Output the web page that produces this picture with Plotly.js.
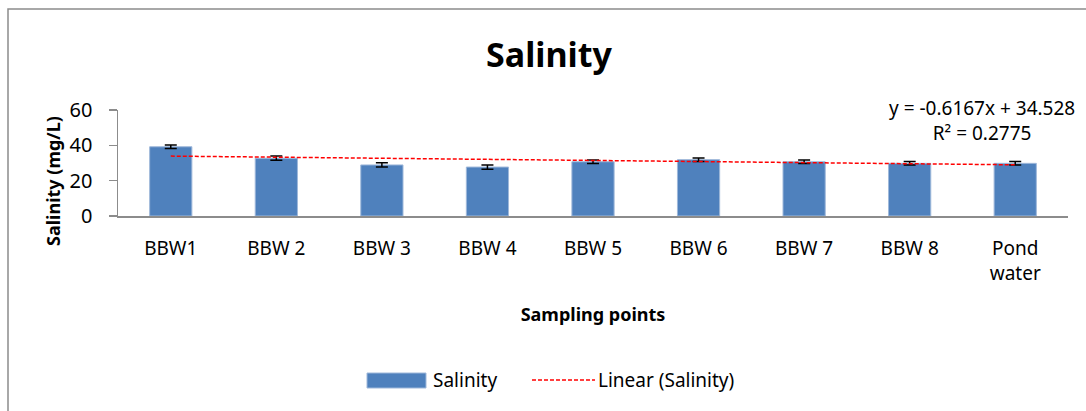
<!DOCTYPE html>
<html>
<head>
<meta charset="utf-8">
<script src="https://cdn.plot.ly/plotly-3.0.1.min.js"></script>
<style>
  html, body { margin: 0; padding: 0; background: #fff; }
  #chart { width: 1086px; height: 411px; }
</style>
</head>
<body>
<div id="chart"></div>
<script>
// ---- data ----
const categories = ["BBW1", "BBW 2", "BBW 3", "BBW 4", "BBW 5", "BBW 6", "BBW 7", "BBW 8", "Pond<br>water"];
const salinity   = [39.2, 32.7, 28.9, 27.7, 30.7, 31.9, 30.7, 29.8, 29.8];
const salinityErr = [1.0, 1.2, 1.2, 1.2, 1.0, 1.0, 1.0, 1.0, 1.0];
const seriesNames = ["Salinity", "Linear (Salinity)"];
// linear trendline as printed on the chart
const trendSlope = -0.6167;
const trendIntercept = 34.528;
const trendR2 = 0.2775;

const trendY = categories.map((c, i) => trendIntercept + trendSlope * (i + 1));

const FONT = "Noto Sans, DejaVu Sans, sans-serif";
const BAR_COLOR = "#4F81BD";
const TREND_COLOR = "#ff0000";

// pixel helpers for paper coordinates (plot area: x 118..1068, y 110..216)
const L = 118, R = 18, T = 110, B = 195, W = 1086, H = 411;
const PW = W - L - R, PH = H - T - B;
const px = x => (x - L) / PW;
const py = y => (H - B - y) / PH;

const traces = [
  {
    type: "bar",
    name: seriesNames[0],
    x: categories,
    y: salinity,
    marker: { color: BAR_COLOR, line: { color: "#9fb8da", width: 1 } },
    error_y: { type: "data", array: salinityErr, visible: true, color: "#000", thickness: 1.5, width: 6 },
    showlegend: false
  },
  {
    type: "scatter",
    mode: "lines",
    name: seriesNames[1],
    x: categories,
    y: trendY,
    line: { color: TREND_COLOR, width: 1.5, dash: "4px,2px" },
    showlegend: false
  }
];

const layout = {
  width: W,
  height: H,
  margin: { l: L, r: R, t: T, b: B },
  paper_bgcolor: "#ffffff",
  plot_bgcolor: "#ffffff",
  font: { family: FONT, size: 20, color: "#000" },
  title: {
    text: "<b>Salinity</b>",
    font: { family: FONT, size: 34, color: "#000" },
    x: 549 / W, xref: "container", xanchor: "center",
    y: 1 - 55 / H, yref: "container", yanchor: "middle"
  },
  bargap: 0.6,
  showlegend: false,
  xaxis: {
    type: "category",
    showgrid: false,
    zeroline: false,
    showline: true,
    linecolor: "#8c8c8c",
    linewidth: 2,
    ticks: "",
    tickfont: { family: FONT, size: 19, color: "#000" },
    ticklabelstandoff: 14,
    title: { text: "<b>Sampling points</b>", font: { family: FONT, size: 18, color: "#000" }, standoff: 24 },
    automargin: false,
    fixedrange: true
  },
  yaxis: {
    range: [0, 60],
    tickvals: [0, 20, 40, 60],
    showgrid: false,
    zeroline: false,
    showline: true,
    linecolor: "#8c8c8c",
    linewidth: 1.5,
    ticks: "outside",
    ticklen: 8,
    tickcolor: "#8c8c8c",
    tickwidth: 1.5,
    tickfont: { family: FONT, size: 20, color: "#000" },
    ticklabelstandoff: 12,
    automargin: false,
    fixedrange: true
  },
  annotations: [
    {
      text: "<b>Salinity (mg/L)</b>",
      textangle: -90,
      xref: "paper", yref: "paper",
      x: px(53), y: py(181),
      xanchor: "center", yanchor: "middle",
      showarrow: false,
      font: { family: FONT, size: 18, color: "#000" }
    },
    {
      text: "y = -0.6167x + 34.528<br>R² = " + trendR2,
      xref: "paper", yref: "paper",
      x: px(982), y: py(120),
      xanchor: "center", yanchor: "middle",
      align: "center",
      showarrow: false,
      font: { family: FONT, size: 19, color: "#000" }
    },
    // legend labels
    {
      text: seriesNames[0],
      xref: "paper", yref: "paper",
      x: px(431), y: py(380),
      xanchor: "left", yanchor: "middle",
      showarrow: false,
      font: { family: FONT, size: 19, color: "#000" }
    },
    {
      text: seriesNames[1],
      xref: "paper", yref: "paper",
      x: px(596), y: py(380),
      xanchor: "left", yanchor: "middle",
      showarrow: false,
      font: { family: FONT, size: 19, color: "#000" }
    }
  ],
  shapes: [
    // chart-area frame
    {
      type: "rect", xref: "paper", yref: "paper",
      x0: px(8), x1: 1.2,
      y0: -2.2, y1: py(9),
      line: { color: "#8c8c8c", width: 1.5 },
      fillcolor: "rgba(0,0,0,0)",
      layer: "below"
    },
    // legend swatches
    {
      type: "rect", xref: "paper", yref: "paper",
      x0: px(367), x1: px(426),
      y0: py(388), y1: py(373),
      line: { color: "#9fb8da", width: 1 },
      fillcolor: BAR_COLOR
    },
    {
      type: "line", xref: "paper", yref: "paper",
      x0: px(532), x1: px(595),
      y0: py(380), y1: py(380),
      line: { color: TREND_COLOR, width: 1.5, dash: "4px,2px" }
    }
  ]
};

Plotly.newPlot("chart", traces, layout, { displayModeBar: false, staticPlot: true });
</script>
</body>
</html>
